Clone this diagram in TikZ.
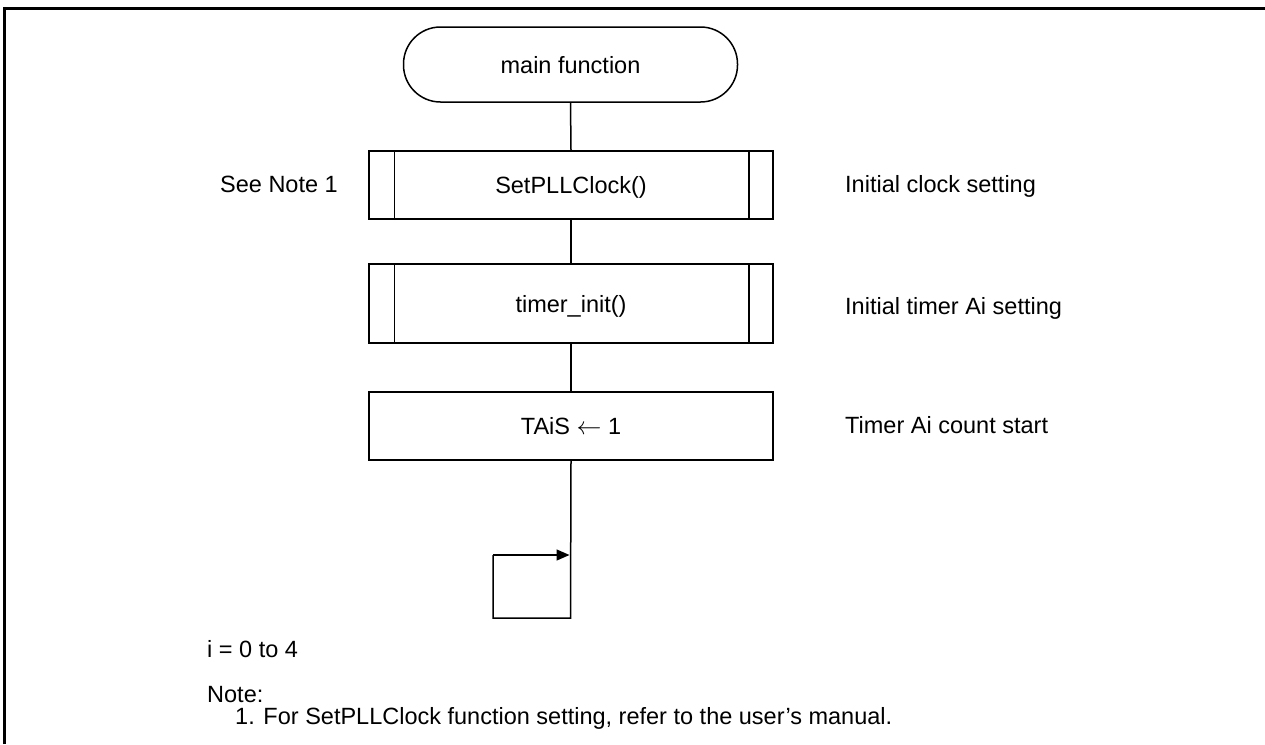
\documentclass[tikz,border=0pt]{standalone}
\usepackage{fontspec}
\setmainfont{Liberation Sans}
\usetikzlibrary{arrows.meta}
\begin{document}
\begin{tikzpicture}[x=1pt,y=-1pt,
  every node/.style={font=\fontsize{23.5}{27}\selectfont, inner sep=0pt},
  ln/.style={line width=1.5pt},
  termbox/.style={draw, ln, rounded corners=37pt, minimum width=334pt, minimum height=75pt, text height=17pt, text depth=0pt},
  procbox/.style={draw, ln, minimum width=404pt, minimum height=68pt, text height=17pt, text depth=0pt},
  lbl/.style={anchor=base west}
]
\useasboundingbox (0,0) rectangle (1265,744);
\fill[white] (0,0) rectangle (1265,744);
% frame
\draw[line width=3.2pt] (4.5,744) -- (4.5,8.5) -- (1265,8.5);

\node[termbox] (start) at (570.5,64.5) {main function};
\node[procbox] (p1) at (571,185) {SetPLLClock()};
\node[procbox, minimum height=79pt] (p2) at (571,303.5) {timer\_init()};
\node[procbox] (p3) at (571,426) {TAiS \(\leftarrow\) 1};

\foreach \n in {p1,p2}{
  \draw[ln] ([xshift=26pt]\n.north west) -- ([xshift=26pt]\n.south west);
  \draw[ln] ([xshift=-25pt]\n.north east) -- ([xshift=-25pt]\n.south east);
}

\coordinate (lbr) at (570.5,618);
\coordinate (lbl) at (493,618);
\coordinate (ltl) at (493,555);
\coordinate (ltr) at (569.5,555);

\draw[ln] (start.south) -- (p1.north);
\draw[ln] (p1.south) -- (p2.north);
\draw[ln] (p2.south) -- (p3.north);
\draw[ln] (p3.south) -- (lbr) -- (lbl) -- (ltl);
\draw[ln, -{Triangle[length=13pt,width=11pt]}] (ltl) -- (ltr);

\node[lbl] (n1) at (220,192) {See Note 1};
\node[lbl] (c1) at (845,192) {Initial clock setting};
\node[lbl] (c2) at (845,314) {Initial timer Ai setting};
\node[lbl] (c3) at (845,433) {Timer Ai count start};
\node[lbl] (iv) at (207,657) {i = 0 to 4};
\node[lbl] (nt) at (207,702) {Note:};
\node[lbl] (n1t) at (235,724) {1. For SetPLLClock function setting, refer to the user’s manual.};
\end{tikzpicture}
\end{document}
